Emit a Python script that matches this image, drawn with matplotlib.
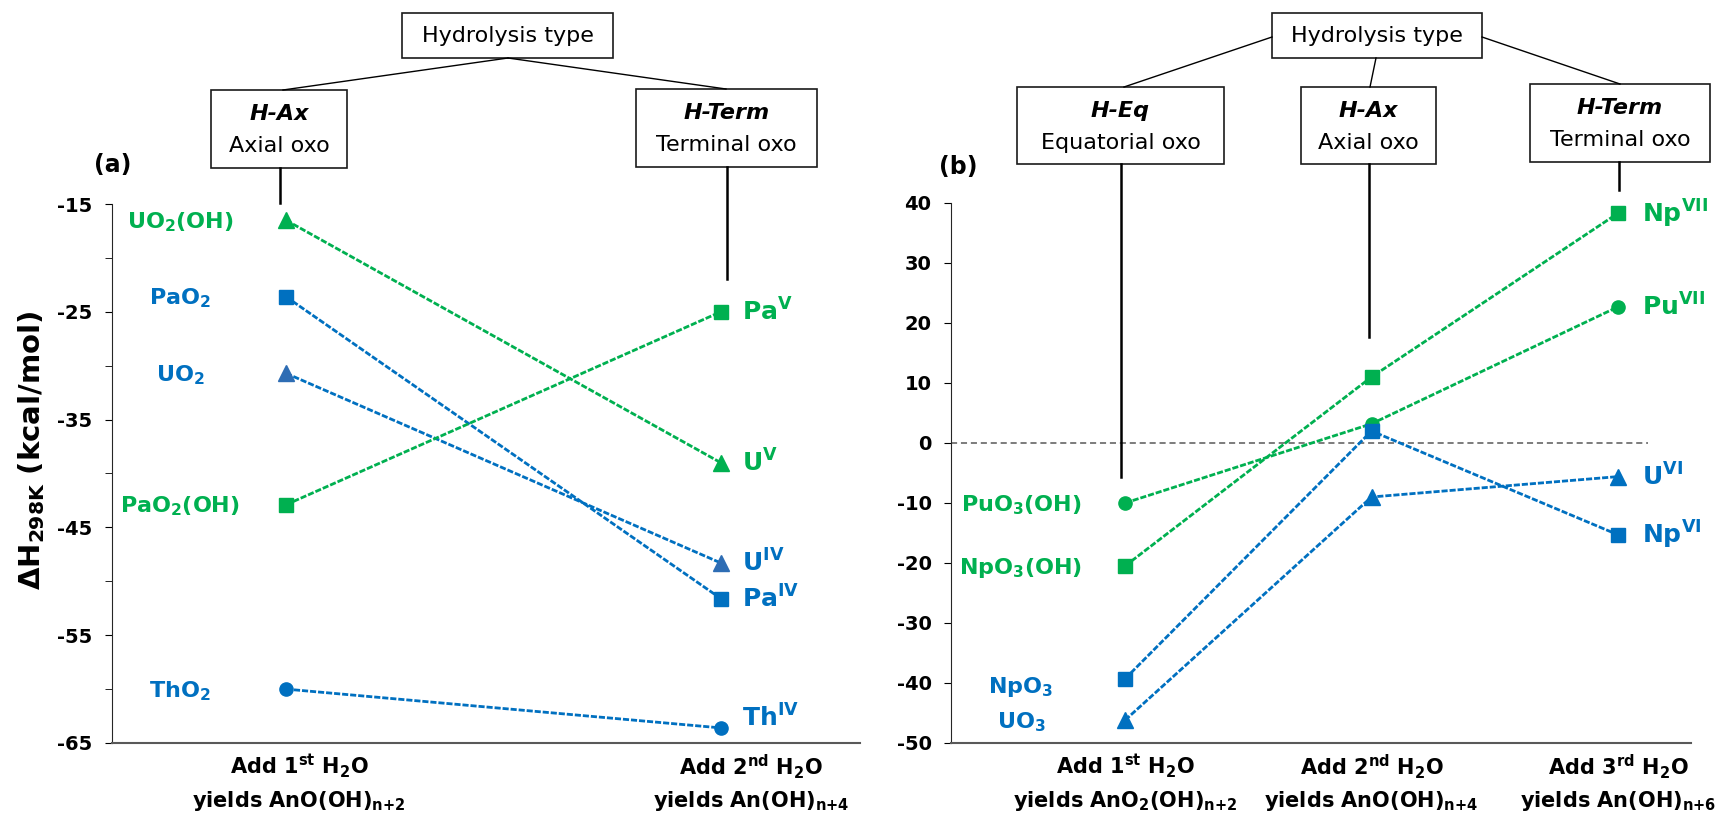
import numpy as np
import matplotlib
matplotlib.use("Agg")
import matplotlib.pyplot as plt
from matplotlib.patches import Rectangle
from matplotlib.lines import Line2D

plt.rcParams['axes.unicode_minus'] = False

W, H = 1717, 814
GREEN = '#00B050'
BLUE = '#0070C0'

# ---- data, panel (a) ----
a_steps = [(r'Add 1$^\mathbf{st}$ H$_\mathbf{2}$O', r'yields AnO(OH)$_\mathbf{n{+}2}$'),
           (r'Add 2$^\mathbf{nd}$ H$_\mathbf{2}$O', r'yields An(OH)$_\mathbf{n{+}4}$')]
a_left_names = [r'UO$_\mathbf{2}$(OH)', r'PaO$_\mathbf{2}$', r'UO$_\mathbf{2}$',
                r'PaO$_\mathbf{2}$(OH)', r'ThO$_\mathbf{2}$']
a_right_names = [r'U$^\mathbf{V}$', r'Pa$^\mathbf{IV}$', r'U$^\mathbf{IV}$',
                 r'Pa$^\mathbf{V}$', r'Th$^\mathbf{IV}$']
a_first = [-16.5, -23.6, -30.7, -42.9, -60.0]
a_second = [-39.0, -51.6, -48.3, -25.0, -63.6]
a_colors = [GREEN, BLUE, BLUE, GREEN, BLUE]
a_markers = ['^', 's', '^', 's', 'o']

# ---- data, panel (b) ----
b_steps = [(r'Add 1$^\mathbf{st}$ H$_\mathbf{2}$O', r'yields AnO$_\mathbf{2}$(OH)$_\mathbf{n{+}2}$'),
           (r'Add 2$^\mathbf{nd}$ H$_\mathbf{2}$O', r'yields AnO(OH)$_\mathbf{n{+}4}$'),
           (r'Add 3$^\mathbf{rd}$ H$_\mathbf{2}$O', r'yields An(OH)$_\mathbf{n{+}6}$')]
b_left_names = [r'PuO$_\mathbf{3}$(OH)', r'NpO$_\mathbf{3}$(OH)', r'NpO$_\mathbf{3}$', r'UO$_\mathbf{3}$']
b_right_names = [r'Pu$^\mathbf{VII}$', r'Np$^\mathbf{VII}$', r'Np$^\mathbf{VI}$', r'U$^\mathbf{VI}$']
b_first = [-10.0, -20.5, -39.3, -46.2]
b_second = [3.2, 11.0, 2.0, -9.0]
b_third = [22.7, 38.3, -15.3, -5.6]
b_colors = [GREEN, GREEN, BLUE, BLUE]
b_markers = ['o', 's', 's', '^']

fig = plt.figure(figsize=(W / 100, H / 100), dpi=100)


def fx(px):
    return px / W


def fy(py):
    return 1 - py / H


def style_axes(ax):
    for s in ['top', 'right']:
        ax.spines[s].set_visible(False)
    ax.spines['left'].set_color('#262626')
    ax.spines['bottom'].set_color('#595959')
    ax.spines['bottom'].set_linewidth(1.5)
    ax.tick_params(axis='x', length=0, labelbottom=False)
    ax.tick_params(axis='y', which='both', direction='out', length=5, labelsize=14, pad=9)
    for t in ax.get_yticklabels():
        t.set_fontweight('bold')


def draw_series(ax, cols, colors, markers, mfc_over=None):
    for i in range(len(colors)):
        ys = [c[i] for c in cols]
        xs = np.arange(len(cols))
        mfc = colors[i] if mfc_over is None or mfc_over[i] is None else mfc_over[i]
        ms = {'s': 10, 'o': 9.5, '^': 11}[markers[i]]
        ax.plot(xs, ys, color=colors[i], lw=2.0, linestyle=(0, (2.2, 0.7)),
                marker=markers[i], ms=ms, mfc=mfc, mec=mfc, clip_on=False, zorder=3)


def step_labels(ax, steps, xpos):
    tr = ax.get_xaxis_transform()
    for (l1, l2), x in zip(steps, xpos):
        ax.annotate(l1, xy=(x, 0), xycoords=tr, xytext=(0, -24), textcoords='offset pixels',
                    ha='center', va='center', fontsize=15, fontweight='bold')
        ax.annotate(l2, xy=(x, 0), xycoords=tr, xytext=(0, -58), textcoords='offset pixels',
                    ha='center', va='center', fontsize=15, fontweight='bold')


def name_labels(ax, x, vals, names, colors, dx, size, ha, nudge=None):
    for i, (v, n, c) in enumerate(zip(vals, names, colors)):
        dy = 0 if nudge is None else nudge.get(i, 0)
        ax.annotate(n, xy=(x, v), xytext=(dx, -size * 0.5 + dy), textcoords='offset pixels',
                    ha=ha, va='baseline', fontsize=size, fontweight='bold', color=c,
                    annotation_clip=False)


# ---- panel (a) ----
ax1 = fig.add_axes([fx(112), fy(743), fx(860) - fx(112), fy(204) - fy(743)])
draw_series(ax1, [a_first, a_second], a_colors, a_markers,
            mfc_over=[None, None, '#2E6DB4', None, None])
ax1.set_xlim(-0.40, 1.32)
ax1.set_ylim(-65, -15)
ax1.set_yticks(np.arange(-65, -14, 10))
ax1.set_yticks(np.arange(-60, -15, 10), minor=True)
style_axes(ax1)
step_labels(ax1, a_steps, [0.03, 1.07])
name_labels(ax1, 0, a_first, a_left_names, a_colors, -106, 16, 'center')
name_labels(ax1, 1, a_second, a_right_names, a_colors, 21, 18, 'left', nudge={4: 10})

# ---- panel (b) ----
ax2 = fig.add_axes([fx(951), fy(743), fx(1691) - fx(951), fy(203) - fy(743)])
ax2.plot([-0.706, 2.12], [0, 0], color='#595959', lw=1.1, linestyle=(0, (4, 2.5)), zorder=1)
draw_series(ax2, [b_first, b_second, b_third], b_colors, b_markers)
ax2.set_xlim(-0.706, 2.296)
ax2.set_ylim(-50, 40)
ax2.set_yticks(np.arange(-50, 41, 10))
style_axes(ax2)
step_labels(ax2, b_steps, [0, 1, 2])
name_labels(ax2, 0, b_first, b_left_names, b_colors, -104, 16, 'center', nudge={2: -6})
name_labels(ax2, 2, b_third, b_right_names, b_colors, 24, 18, 'left')

# panel tags and y label
fig.text(fx(113), fy(165), '(a)', fontsize=17, fontweight='bold', ha='center', va='center')
fig.text(fx(958), fy(167), '(b)', fontsize=17, fontweight='bold', ha='center', va='center')
fig.text(fx(32), fy(450), 'ΔH$_\\mathbf{298K}$ (kcal/mol)', rotation=90, fontsize=21,
         fontweight='bold', ha='center', va='center')


# ---- hydrolysis type tree (figure pixel coordinates) ----
def box(x0, y0, x1, y1):
    fig.add_artist(Rectangle((fx(x0), fy(y1)), fx(x1) - fx(x0), fy(y0) - fy(y1),
                             transform=fig.transFigure, fc='white', ec='#1a1a1a', lw=1.2))


def seg(x0, y0, x1, y1, lw=1.0):
    fig.add_artist(Line2D([fx(x0), fx(x1)], [fy(y0), fy(y1)], transform=fig.transFigure,
                          color='black', lw=lw))


def type_box(x0, y0, x1, y1, code, name):
    box(x0, y0, x1, y1)
    cx = (x0 + x1) / 2
    fig.text(fx(cx), fy(y0 + 24), code, fontsize=16, fontweight='bold', style='italic',
             ha='center', va='center')
    fig.text(fx(cx), fy(y0 + 56), name, fontsize=16, ha='center', va='center')


def top_box(x0, y0, x1, y1):
    box(x0, y0, x1, y1)
    fig.text(fx((x0 + x1) / 2), fy((y0 + y1) / 2), 'Hydrolysis type', fontsize=16,
             ha='center', va='center')


# panel (a) tree
seg(508, 58, 283, 90)
seg(508, 58, 726, 89)
top_box(402, 13, 613, 58)
type_box(211, 90, 347, 168, 'H-Ax', 'Axial oxo')
type_box(636, 89, 817, 167, 'H-Term', 'Terminal oxo')
seg(280, 168, 280, 203, lw=1.8)
seg(727, 167, 727, 279, lw=1.8)

# panel (b) tree
seg(1272, 37, 1124, 87)
seg(1376, 58, 1370, 87)
seg(1482, 37, 1620, 84)
top_box(1272, 13, 1482, 58)
type_box(1017, 87, 1224, 164, 'H-Eq', 'Equatorial oxo')
type_box(1301, 87, 1436, 164, 'H-Ax', 'Axial oxo')
type_box(1530, 84, 1710, 162, 'H-Term', 'Terminal oxo')
seg(1121, 164, 1121, 477, lw=1.8)
seg(1369, 164, 1369, 337, lw=1.8)
seg(1619, 162, 1619, 190, lw=1.8)

fig.savefig('out.png', dpi=100)
